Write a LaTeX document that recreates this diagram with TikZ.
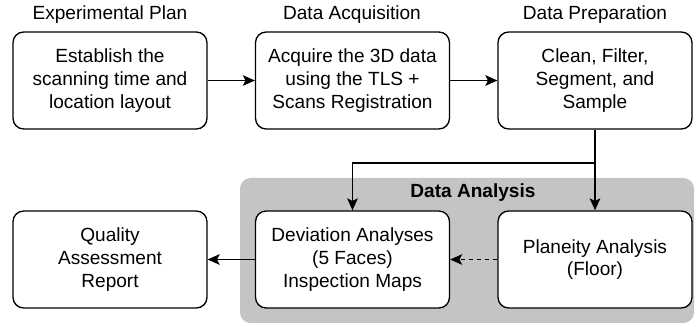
\documentclass[tikz,border=0pt]{standalone}
\usepackage{fontspec}
\setmainfont{Liberation Sans}
\usetikzlibrary{arrows.meta}
\definecolor{areagray}{RGB}{196,196,196}
\begin{document}
\begin{tikzpicture}[x=0.75pt,y=-0.75pt,
  box/.style={draw=black, line width=1pt, rounded corners=8pt, fill=white,
    minimum width=194*0.75pt, minimum height=97*0.75pt, align=center,
    font=\fontsize{14.3}{17}\selectfont, inner sep=0pt},
  hdr/.style={font=\fontsize{14.3}{17}\selectfont, inner sep=0pt},
  conn/.style={line width=1pt, -{Stealth[length=9pt,width=8pt,inset=2pt]}}]
\useasboundingbox (0,0) rectangle (697,327);
\fill[areagray, rounded corners=8pt] (240,178) rectangle (694,323);
\node[hdr] (h1) at (110,15) {Experimental Plan};
\node[hdr] (h2) at (352,15) {Data Acquisition};
\node[hdr] (h3) at (595,15) {Data Preparation};
\node[box] (b1) at (110,80.5) {Establish the\\scanning time and\\location layout};
\node[box] (b2) at (352.5,80.5) {Acquire the 3D data\\using the TLS +\\Scans Registration};
\node[box] (b3) at (595,80.5) {Clean, Filter,\\Segment, and\\Sample};
\node[hdr, font=\fontsize{14.3}{17}\selectfont\bfseries] (da) at (473,193) {Data Analysis};
\node[box] (b4) at (110,259.5) {Quality\\Assessment\\Report};
\node[box] (b5) at (352.5,259.5) {Deviation Analyses\\(5 Faces)\\Inspection Maps};
\node[box] (b6) at (595,259.5) {Planeity Analysis\\(Floor)};
\draw[conn] (b1) -- (b2);
\draw[conn] (b2) -- (b3);
\draw[conn] (b3.south) -- (b6.north);
\draw[conn] (b3.south) |- (352.5,163) -- (b5.north);
\draw[conn] (b5) -- (b4);
\draw[conn, dashed] (b6) -- (b5);
\end{tikzpicture}
\end{document}
